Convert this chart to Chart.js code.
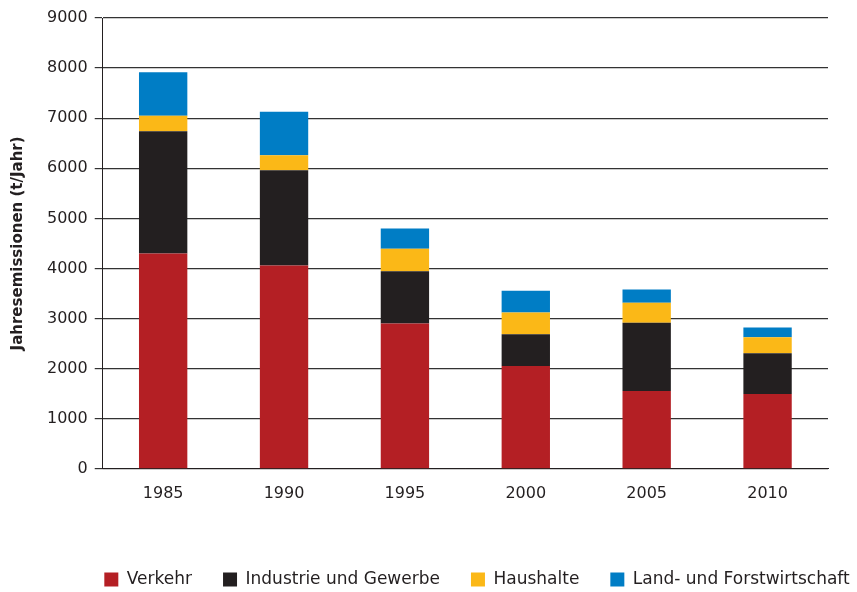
<!DOCTYPE html>
<html>
<head>
<meta charset="utf-8">
<script src="https://cdn.jsdelivr.net/npm/chart.js@4"></script>
<style>
  html, body { margin: 0; padding: 0; background: #fff; }
  #wrap { width: 857px; height: 592px; }
</style>
</head>
<body>
<div id="wrap"><canvas id="emissionen"></canvas></div>
<script>
var jahre = ['1985', '1990', '1995', '2000', '2005', '2010'];
var verkehr = [4300, 4060, 2900, 2050, 1555, 1495];
var industrie = [2440, 1900, 1045, 635, 1360, 810];
var haushalte = [310, 300, 450, 435, 400, 320];
var landForst = [865, 870, 400, 435, 265, 195];
var yTicks = [0, 1000, 2000, 3000, 4000, 5000, 6000, 7000, 8000, 9000];

Chart.defaults.font.family = '"DejaVu Sans", sans-serif';
Chart.defaults.color = '#231f20';

// legend sits lower and further right than Chart.js puts it
var legendShift = {
    id: 'legendShift',
    afterLayout: function (chart) {
        var lg = chart.legend;
        lg.left += 63; lg.right += 63;
        lg.top += 22; lg.bottom += 22;
    }
};

var ctx = document.getElementById('emissionen').getContext('2d');
var chart = new Chart(ctx, {
    type: 'bar',
    data: {
        labels: jahre,
        datasets: [{
            label: 'Verkehr',
            data: verkehr,
            backgroundColor: '#b41f24'
        }, {
            label: 'Industrie und Gewerbe',
            data: industrie,
            backgroundColor: '#231f20'
        }, {
            label: 'Haushalte',
            data: haushalte,
            backgroundColor: '#fbb817'
        }, {
            label: 'Land- und Forstwirtschaft',
            data: landForst,
            backgroundColor: '#007dc5'
        }]
    },
    options: {
        responsive: true,
        maintainAspectRatio: false,
        animation: false,
        datasets: { bar: { barPercentage: 1, categoryPercentage: 0.4 } },
        layout: { padding: { top: 18, right: 29, bottom: 16, left: 0 } },
        plugins: {
            tooltip: { enabled: false },
            legend: {
                position: 'bottom',
                labels: {
                    boxWidth: 14,
                    boxHeight: 14,
                    padding: 31,
                    font: { size: 17 },
                    color: '#231f20'
                }
            }
        },
        scales: {
            x: {
                stacked: true,
                grid: { display: false, drawTicks: false },
                border: { color: '#231f20', width: 1 },
                ticks: { font: { size: 16 }, padding: 15, color: '#231f20' }
            },
            y: {
                stacked: true,
                min: 0,
                max: 9000,
                afterBuildTicks: function (axis) {
                    axis.ticks = yTicks.map(function (v) { return { value: v }; });
                },
                grid: { color: '#333333', lineWidth: 1.2, tickLength: 8 },
                border: { color: '#231f20', width: 1 },
                ticks: {
                    font: { size: 16 },
                    padding: 7,
                    color: '#231f20',
                    callback: function (v) { return String(v); }
                },
                title: {
                    display: true,
                    text: 'Jahresemissionen (t/Jahr)',
                    font: { size: 15, weight: 'bold' },
                    color: '#231f20',
                    padding: { top: 9, bottom: 13 }
                }
            }
        }
    },
    plugins: [legendShift]
});
</script>
</body>
</html>
